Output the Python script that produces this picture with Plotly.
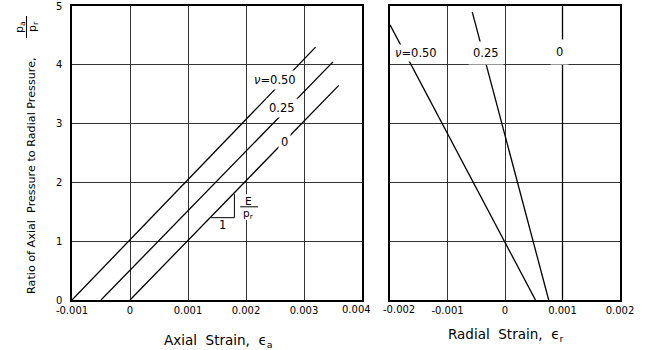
import plotly.graph_objects as go

# ---- data ----
nu_labels = ["0.50", "0.25", "0"]

# Left panel: axial strain vs p_a/p_r
axial_x = [[-0.001, 0.0032], [-0.0005, 0.0035], [0.0, 0.0036]]
axial_y = [[0.0, 4.3], [0.0, 4.05], [0.0, 3.65]]

# Right panel: radial strain vs p_a/p_r
radial_x = [[0.00053, -0.002], [0.00076, -0.00057], [0.001, 0.001]]
radial_y = [[0.0, 4.68], [0.0, 4.9], [0.0, 5.0]]

axial_ticks = [-0.001, 0, 0.001, 0.002, 0.003, 0.004]
axial_ticktext = ["-0.001", "0", "0.001", "0.002", "0.003", ""]
radial_ticks = [-0.002, -0.001, 0, 0.001, 0.002]
radial_ticktext = ["", "-0.001", "0", "0.001", "0.002"]
edge_ticktext = ["0.004", "-0.002"]
ratio_ticks = [0, 1, 2, 3, 4, 5]
ratio_ticktext = ["0", "1", "2", "3", "4", "5"]

FONT = "DejaVu Sans"
W, H = 652, 350

def px(x):
    return x / W

def py(y):
    return 1 - y / H

fig = go.Figure()

for xs, ys in zip(axial_x, axial_y):
    fig.add_trace(go.Scatter(x=xs, y=ys, mode="lines", xaxis="x", yaxis="y",
                             line=dict(color="black", width=1.3),
                             showlegend=False, hoverinfo="skip"))
for xs, ys in zip(radial_x, radial_y):
    fig.add_trace(go.Scatter(x=xs, y=ys, mode="lines", xaxis="x2", yaxis="y2",
                             line=dict(color="black", width=1.3),
                             showlegend=False, hoverinfo="skip"))

tick_font = dict(family=FONT, size=10, color="black")
axis_common = dict(showline=True, linecolor="black", linewidth=1.5, mirror=True,
                   showgrid=True, gridcolor="#333333", gridwidth=1,
                   zeroline=False, ticks="", automargin=False, tickfont=tick_font)

fig.update_layout(
    template="none",
    width=W, height=H,
    margin=dict(l=0, r=0, t=0, b=0, pad=0),
    paper_bgcolor="white", plot_bgcolor="white",
    showlegend=False,
    xaxis=dict(domain=[px(72), px(362)], range=[-0.001, 0.004], anchor="y",
               tickvals=axial_ticks, ticktext=axial_ticktext, **axis_common),
    yaxis=dict(domain=[py(300), py(6)], range=[0, 5], anchor="x",
               tickvals=ratio_ticks, ticktext=ratio_ticktext,
               ticklabelstandoff=6, **axis_common),
    xaxis2=dict(domain=[px(390), px(620)], range=[-0.002, 0.002], anchor="y2",
                tickvals=radial_ticks, ticktext=radial_ticktext, **axis_common),
    yaxis2=dict(domain=[py(300), py(6)], range=[0, 5], anchor="x2",
                tickvals=ratio_ticks, showticklabels=False, **axis_common),
)

# edge tick labels (nudged apart as in the reference)
fig.add_annotation(x=px(373), y=py(309), xref="paper", yref="paper",
                   xanchor="right", yanchor="middle", text=edge_ticktext[0],
                   showarrow=False, font=tick_font)
fig.add_annotation(x=px(381), y=py(309), xref="paper", yref="paper",
                   xanchor="left", yanchor="middle", text=edge_ticktext[1],
                   showarrow=False, font=tick_font)

lab_font = dict(family=FONT, size=11.5, color="black")
nu_text = ["<i>ν</i>=0.50", "0.25", "0"]

# line labels, left panel
left_pos = [(0.0025, 3.75), (0.00262, 3.26), (0.00266, 2.68)]
for t, (x, y) in zip(nu_text, left_pos):
    fig.add_annotation(x=x, y=y, xref="x", yref="y", text=t, showarrow=False,
                       font=lab_font, bgcolor="white", borderpad=2)
# line labels, right panel
right_pos = [(-0.00155, 4.2), (-0.00033, 4.2), (0.00095, 4.22)]
right_pad = [1, 4, 5]
for t, (x, y), pad in zip(nu_text, right_pos, right_pad):
    fig.add_annotation(x=x, y=y, xref="x2", yref="y2", text=t, showarrow=False,
                       font=lab_font, bgcolor="white", borderpad=pad)

# slope triangle
fig.add_shape(type="line", xref="x", yref="y", x0=0.0014, y0=1.4, x1=0.0018, y1=1.4,
              line=dict(color="black", width=1))
fig.add_shape(type="line", xref="x", yref="y", x0=0.0018, y0=1.4, x1=0.0018, y1=1.8,
              line=dict(color="black", width=1))
fig.add_annotation(x=0.0016, y=1.27, xref="x", yref="y", text="1", showarrow=False,
                   font=lab_font)
# E / p_r fraction: white patch over the grid, bar, then letters
fig.add_shape(type="rect", xref="x", yref="y", x0=0.00188, y0=1.36, x1=0.00224, y1=1.8,
              line=dict(width=0), fillcolor="white")
fig.add_shape(type="line", xref="x", yref="y", x0=0.0019, y0=1.585, x1=0.00221, y1=1.585,
              line=dict(color="black", width=1))
fig.add_annotation(x=0.00205, y=1.69, xref="x", yref="y", text="E", showarrow=False,
                   font=dict(family=FONT, size=10.5, color="black"))
fig.add_annotation(x=0.00205, y=1.46, xref="x", yref="y", text="p<sub>r</sub>",
                   showarrow=False, font=dict(family=FONT, size=10.5, color="black"))

# axis titles
title_font = dict(family=FONT, size=13.5, color="black")
fig.add_annotation(x=px(218), y=py(341), xref="paper", yref="paper",
                   xanchor="center", yanchor="middle",
                   text="Axial  Strain,  ϵ<sub>a</sub>", showarrow=False, font=title_font)
fig.add_annotation(x=px(505), y=py(335), xref="paper", yref="paper",
                   xanchor="center", yanchor="middle",
                   text="Radial  Strain,  ϵ<sub>r</sub>", showarrow=False, font=title_font)
fig.add_annotation(x=px(31), y=py(176), xref="paper", yref="paper", textangle=-90,
                   xanchor="center", yanchor="middle",
                   text="Ratio of Axial  Pressure to Radial Pressure,", showarrow=False,
                   font=dict(family=FONT, size=11.2, color="black"))
fig.add_annotation(x=px(20), y=py(27), xref="paper", yref="paper", textangle=-90,
                   xanchor="center", yanchor="middle",
                   text="p<sub>a</sub>", showarrow=False,
                   font=dict(family=FONT, size=11, color="black"))
fig.add_annotation(x=px(33), y=py(27), xref="paper", yref="paper", textangle=-90,
                   xanchor="center", yanchor="middle",
                   text="p<sub>r</sub>", showarrow=False,
                   font=dict(family=FONT, size=11, color="black"))
fig.add_shape(type="line", xref="paper", yref="paper", x0=px(26.5), y0=py(16),
              x1=px(26.5), y1=py(38), line=dict(color="black", width=1))

fig.write_html("out.html")
